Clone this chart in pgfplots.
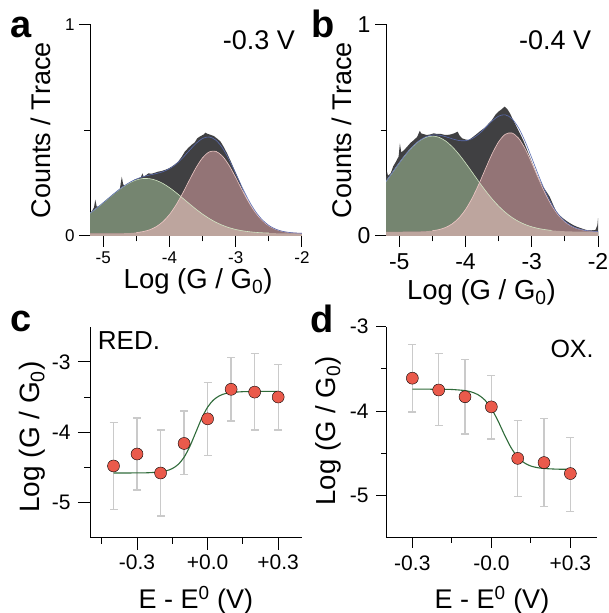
\documentclass[border=0pt]{standalone}
\usepackage{fontspec}
\setmainfont{Liberation Sans}
\usepackage{pgfplots}
\pgfplotsset{compat=1.18}

\definecolor{histgray}{HTML}{404042}
\definecolor{gfill}{HTML}{758570}
\definecolor{mfill}{HTML}{937476}
\definecolor{ofill}{HTML}{BDA59E}
\definecolor{gline}{HTML}{D2E6C4}
\definecolor{mline}{HTML}{EEC9C6}
\definecolor{fitblue}{HTML}{5A6CB0}
\definecolor{dotred}{HTML}{EA5A4B}
\definecolor{errgray}{HTML}{CACACA}
\definecolor{fitgreen}{HTML}{2F6B3A}

\newcommand{\fs}[1]{\fontsize{#1}{#1}\selectfont}

\pgfplotsset{
  panel/.style={
    scale only axis, enlargelimits=false,
    axis x line=bottom, axis y line=left, axis line style={-, line width=1pt},
    tick align=outside, major tick length=11pt, minor tick length=5.5pt,
    tick style={line width=1pt, black},
    xtick pos=bottom, ytick pos=left,
  },
  hist/.style={
    panel, xmin=-5.2, xmax=-2, ymin=0, ymax=1,
    width=212pt, height=211.7pt,
    xtick={-5,-4,-3,-2}, xticklabels={-5,-4,-3,-2}, minor xtick={-4.5,-3.5,-2.5},
    ytick={0,1}, yticklabels={0,1}, minor ytick={0.5},
  },
  ebar/.style={forget plot, draw=none, mark=none,
    error bars/.cd, y dir=both, y explicit,
    error bar style={draw=errgray, solid, line width=1.3pt},
    error mark options={rotate=90, mark size=4pt, draw=errgray, line width=1.3pt}},
  dots/.style={only marks, mark=*, mark size=6pt, mark options={draw=none, fill=dotred}},
}

\begin{document}
\begin{tikzpicture}
\path[use as bounding box] (0pt,0pt) rectangle (608pt,613pt);

% ---------------- a ----------------
\begin{axis}[hist, at={(90pt,377pt)}, anchor=south west,
  tick label style={font=\fs{17}},
  xticklabel style={yshift=-1.5pt}, yticklabel style={xshift=-1pt},
  xlabel={\fs{27.5}Log (G / G\textsubscript{0})},
  xlabel style={at={(axis description cs:0.51,-0.214)}, anchor=center},
  ylabel={\fs{27}Counts / Trace},
  ylabel style={at={(axis description cs:-0.231,0.5)}, anchor=center},
]
\addplot[fill=histgray, draw=none] coordinates {
(-5.20,0.107) (-5.17,0.118) (-5.14,0.135) (-5.12,0.172) (-5.10,0.140) (-5.07,0.138)
(-5.03,0.135) (-5.00,0.150) (-4.96,0.162) (-4.93,0.172) (-4.88,0.185) (-4.83,0.200)
(-4.78,0.212) (-4.75,0.222) (-4.72,0.280) (-4.70,0.245) (-4.67,0.235) (-4.62,0.249)
(-4.57,0.258) (-4.52,0.268) (-4.47,0.272) (-4.43,0.278) (-4.41,0.296) (-4.39,0.280)
(-4.35,0.288) (-4.32,0.296) (-4.27,0.294) (-4.22,0.299) (-4.17,0.304) (-4.12,0.307)
(-4.07,0.312) (-4.02,0.318) (-3.97,0.327) (-3.92,0.338) (-3.87,0.351) (-3.82,0.372)
(-3.77,0.398) (-3.72,0.415) (-3.67,0.430) (-3.62,0.442) (-3.58,0.462) (-3.53,0.472)
(-3.48,0.480) (-3.46,0.488) (-3.42,0.482) (-3.38,0.478) (-3.33,0.472) (-3.28,0.460)
(-3.23,0.446) (-3.18,0.420) (-3.13,0.390) (-3.08,0.356) (-3.03,0.320) (-2.98,0.285)
(-2.93,0.249) (-2.88,0.208) (-2.83,0.170) (-2.78,0.140) (-2.73,0.115) (-2.68,0.094)
(-2.62,0.076) (-2.57,0.060) (-2.52,0.047) (-2.47,0.036) (-2.42,0.028) (-2.35,0.020)
(-2.27,0.016) (-2.20,0.015) (-2.12,0.013) (-2.05,0.010) (-2.00,0.008)
} \closedcycle;
% green gaussian
\addplot[fill=gfill, draw=none, smooth] coordinates {
(-5.2,0.1077) (-5.1,0.1317) (-5.0,0.1575) (-4.9,0.1840) (-4.8,0.2097) (-4.7,0.2327)
(-4.6,0.2516) (-4.5,0.2649) (-4.4,0.2714) (-4.3,0.2707) (-4.2,0.2627) (-4.1,0.2483)
(-4.0,0.2284) (-3.9,0.2047) (-3.8,0.1787) (-3.7,0.1523) (-3.6,0.1267) (-3.5,0.1032)
(-3.4,0.0825) (-3.3,0.0649) (-3.2,0.0507) (-3.1,0.0394) (-3.0,0.0309) (-2.9,0.0247)
(-2.8,0.0203) (-2.7,0.0172) (-2.6,0.0152) (-2.5,0.0139) (-2.4,0.0130) (-2.3,0.0125)
(-2.2,0.0123) (-2.1,0.0121) (-2.0,0.0120)
} \closedcycle;
% mauve gaussian
\addplot[fill=mfill, draw=none, smooth] coordinates {
(-5.2,0.0120) (-5.1,0.0120) (-5.0,0.0120) (-4.9,0.0120) (-4.8,0.0122) (-4.7,0.0128)
(-4.6,0.0138) (-4.5,0.0161) (-4.4,0.0208) (-4.3,0.0293) (-4.2,0.0441) (-4.1,0.0674)
(-4.0,0.1015) (-3.9,0.1472) (-3.8,0.2028) (-3.7,0.2637) (-3.6,0.3224) (-3.5,0.3697)
(-3.4,0.3973) (-3.3,0.3999) (-3.2,0.3770) (-3.1,0.3330) (-3.0,0.2759) (-2.9,0.2148)
(-2.8,0.1576) (-2.7,0.1097) (-2.6,0.0733) (-2.5,0.0480) (-2.4,0.0317) (-2.3,0.0221)
(-2.2,0.0168) (-2.1,0.0142) (-2.0,0.0129)
} \closedcycle;
% overlap (lower of the two)
\addplot[fill=ofill, draw=none] coordinates {
(-5.2,0.0120) (-5.1,0.0120) (-5.0,0.0120) (-4.9,0.0120) (-4.8,0.0122) (-4.7,0.0128)
(-4.6,0.0138) (-4.5,0.0161) (-4.4,0.0208) (-4.3,0.0293) (-4.2,0.0441) (-4.1,0.0674)
(-4.0,0.1015) (-3.9,0.1472) (-3.83,0.1860) (-3.8,0.1787) (-3.7,0.1523) (-3.6,0.1267)
(-3.5,0.1032) (-3.4,0.0825) (-3.3,0.0649) (-3.2,0.0507) (-3.1,0.0394) (-3.0,0.0309)
(-2.9,0.0247) (-2.8,0.0203) (-2.7,0.0172) (-2.6,0.0152) (-2.5,0.0139) (-2.4,0.0130)
(-2.3,0.0125) (-2.2,0.0123) (-2.1,0.0121) (-2.0,0.0120)
} \closedcycle;
\addplot[gline, line width=0.6pt, smooth] coordinates {
(-5.2,0.1077) (-5.1,0.1317) (-5.0,0.1575) (-4.9,0.1840) (-4.8,0.2097) (-4.7,0.2327)
(-4.6,0.2516) (-4.5,0.2649) (-4.4,0.2714) (-4.3,0.2707) (-4.2,0.2627) (-4.1,0.2483)
(-4.0,0.2284) (-3.9,0.2047) (-3.8,0.1787) (-3.7,0.1523) (-3.6,0.1267) (-3.5,0.1032)
(-3.4,0.0825) (-3.3,0.0649) (-3.2,0.0507) (-3.1,0.0394) (-3.0,0.0309) (-2.9,0.0247)
(-2.8,0.0203) (-2.7,0.0172) (-2.6,0.0152) (-2.5,0.0139)
};
\addplot[mline, line width=0.6pt, smooth] coordinates {
(-4.5,0.0161) (-4.4,0.0208) (-4.3,0.0293) (-4.2,0.0441) (-4.1,0.0674)
(-4.0,0.1015) (-3.9,0.1472) (-3.8,0.2028) (-3.7,0.2637) (-3.6,0.3224) (-3.5,0.3697)
(-3.4,0.3973) (-3.3,0.3999) (-3.2,0.3770) (-3.1,0.3330) (-3.0,0.2759) (-2.9,0.2148)
(-2.8,0.1576) (-2.7,0.1097) (-2.6,0.0733) (-2.5,0.0480) (-2.4,0.0317) (-2.3,0.0221)
(-2.2,0.0168) (-2.1,0.0142) (-2.0,0.0129)
};
% total fit
\addplot[fitblue, line width=0.6pt, smooth] coordinates {
(-5.2,0.1077) (-5.1,0.1317) (-5.0,0.1575) (-4.9,0.1840) (-4.8,0.2099) (-4.7,0.2335)
(-4.6,0.2534) (-4.5,0.2690) (-4.4,0.2802) (-4.3,0.2880) (-4.2,0.2948) (-4.1,0.3037)
(-4.0,0.3179) (-3.9,0.3399) (-3.8,0.3695) (-3.7,0.4040) (-3.6,0.4371) (-3.5,0.4609)
(-3.4,0.4678) (-3.3,0.4528) (-3.2,0.4157) (-3.1,0.3604) (-3.0,0.2948) (-2.9,0.2275)
(-2.8,0.1659) (-2.7,0.1149) (-2.6,0.0765) (-2.5,0.0499) (-2.4,0.0327) (-2.3,0.0226)
(-2.2,0.0171) (-2.1,0.0143) (-2.0,0.0129)
};
\node[font=\fs{27}] at (axis description cs:0.797,0.926) {-0.3 V};
\end{axis}

% ---------------- b ----------------
\begin{axis}[hist, at={(386pt,377pt)}, anchor=south west,
  tick label style={font=\fs{23}},
  xticklabel style={yshift=-3pt}, yticklabel style={xshift=-1pt},
  xlabel={\fs{27.5}Log (G / G\textsubscript{0})},
  xlabel style={at={(axis description cs:0.45,-0.265)}, anchor=center},
  ylabel={\fs{27}Counts / Trace},
  ylabel style={at={(axis description cs:-0.208,0.5)}, anchor=center},
]
\addplot[fill=histgray, draw=none] coordinates {
(-5.20,0.265) (-5.19,0.310) (-5.17,0.285) (-5.13,0.296) (-5.09,0.330) (-5.05,0.351)
(-5.01,0.375) (-4.99,0.438) (-4.97,0.395) (-4.93,0.405) (-4.88,0.422) (-4.83,0.440)
(-4.78,0.453) (-4.73,0.468) (-4.69,0.497) (-4.67,0.485) (-4.62,0.480) (-4.58,0.477)
(-4.53,0.480) (-4.48,0.485) (-4.43,0.482) (-4.37,0.482) (-4.32,0.478) (-4.28,0.477)
(-4.22,0.480) (-4.17,0.485) (-4.12,0.493) (-4.09,0.475) (-4.05,0.461) (-4.00,0.456)
(-3.95,0.453) (-3.90,0.465) (-3.85,0.477) (-3.78,0.495) (-3.72,0.509) (-3.66,0.528)
(-3.60,0.548) (-3.55,0.572) (-3.50,0.588) (-3.45,0.600) (-3.41,0.611) (-3.37,0.600)
(-3.33,0.580) (-3.28,0.548) (-3.23,0.516) (-3.18,0.485) (-3.13,0.453) (-3.08,0.414)
(-3.03,0.375) (-2.98,0.335) (-2.93,0.296) (-2.88,0.262) (-2.83,0.233) (-2.78,0.210)
(-2.73,0.186) (-2.68,0.150) (-2.63,0.115) (-2.58,0.098) (-2.53,0.084) (-2.47,0.070)
(-2.42,0.060) (-2.37,0.051) (-2.32,0.044) (-2.25,0.036) (-2.17,0.028) (-2.10,0.027)
(-2.04,0.028) (-2.01,0.050) (-2.00,0.084)
} \closedcycle;
\addplot[fill=gfill, draw=none, smooth] coordinates {
(-5.2,0.2572) (-5.1,0.3015) (-5.0,0.3453) (-4.9,0.3862) (-4.8,0.4215) (-4.7,0.4488)
(-4.6,0.4661) (-4.5,0.4720) (-4.4,0.4661) (-4.3,0.4488) (-4.2,0.4215) (-4.1,0.3862)
(-4.0,0.3453) (-3.9,0.3015) (-3.8,0.2572) (-3.7,0.2147) (-3.6,0.1757) (-3.5,0.1413)
(-3.4,0.1120) (-3.3,0.0879) (-3.2,0.0689) (-3.1,0.0543) (-3.0,0.0434) (-2.9,0.0356)
(-2.8,0.0301) (-2.7,0.0264) (-2.6,0.0239) (-2.5,0.0223) (-2.4,0.0213) (-2.3,0.0207)
(-2.2,0.0203) (-2.1,0.0201) (-2.0,0.0200)
} \closedcycle;
\addplot[fill=mfill, draw=none, smooth] coordinates {
(-5.2,0.0200) (-5.1,0.0200) (-5.0,0.0200) (-4.9,0.0201) (-4.8,0.0203) (-4.7,0.0209)
(-4.6,0.0222) (-4.5,0.0249) (-4.4,0.0303) (-4.3,0.0403) (-4.2,0.0575) (-4.1,0.0849)
(-4.0,0.1248) (-3.9,0.1785) (-3.8,0.2441) (-3.7,0.3165) (-3.6,0.3871) (-3.5,0.4450)
(-3.4,0.4804) (-3.3,0.4866) (-3.2,0.4623) (-3.1,0.4123) (-3.0,0.3455) (-2.9,0.2727)
(-2.8,0.2035) (-2.7,0.1446) (-2.6,0.0992) (-2.5,0.0671) (-2.4,0.0462) (-2.3,0.0336)
(-2.2,0.0266) (-2.1,0.0230) (-2.0,0.0213)
} \closedcycle;
\addplot[fill=ofill, draw=none] coordinates {
(-5.2,0.0200) (-5.1,0.0200) (-5.0,0.0200) (-4.9,0.0201) (-4.8,0.0203) (-4.7,0.0209)
(-4.6,0.0222) (-4.5,0.0249) (-4.4,0.0303) (-4.3,0.0403) (-4.2,0.0575) (-4.1,0.0849)
(-4.0,0.1248) (-3.9,0.1785) (-3.8,0.2441) (-3.789,0.2520) (-3.7,0.2147) (-3.6,0.1757)
(-3.5,0.1413) (-3.4,0.1120) (-3.3,0.0879) (-3.2,0.0689) (-3.1,0.0543) (-3.0,0.0434)
(-2.9,0.0356) (-2.8,0.0301) (-2.7,0.0264) (-2.6,0.0239) (-2.5,0.0223) (-2.4,0.0213)
(-2.3,0.0207) (-2.2,0.0203) (-2.1,0.0201) (-2.0,0.0200)
} \closedcycle;
\addplot[gline, line width=0.6pt, smooth] coordinates {
(-5.2,0.2572) (-5.1,0.3015) (-5.0,0.3453) (-4.9,0.3862) (-4.8,0.4215) (-4.7,0.4488)
(-4.6,0.4661) (-4.5,0.4720) (-4.4,0.4661) (-4.3,0.4488) (-4.2,0.4215) (-4.1,0.3862)
(-4.0,0.3453) (-3.9,0.3015) (-3.8,0.2572) (-3.7,0.2147) (-3.6,0.1757) (-3.5,0.1413)
(-3.4,0.1120) (-3.3,0.0879) (-3.2,0.0689) (-3.1,0.0543) (-3.0,0.0434) (-2.9,0.0356)
(-2.8,0.0301) (-2.7,0.0264)
};
\addplot[mline, line width=0.6pt, smooth] coordinates {
(-4.5,0.0249) (-4.4,0.0303) (-4.3,0.0403) (-4.2,0.0575) (-4.1,0.0849)
(-4.0,0.1248) (-3.9,0.1785) (-3.8,0.2441) (-3.7,0.3165) (-3.6,0.3871) (-3.5,0.4450)
(-3.4,0.4804) (-3.3,0.4866) (-3.2,0.4623) (-3.1,0.4123) (-3.0,0.3455) (-2.9,0.2727)
(-2.8,0.2035) (-2.7,0.1446) (-2.6,0.0992) (-2.5,0.0671) (-2.4,0.0462) (-2.3,0.0336)
(-2.2,0.0266) (-2.1,0.0230) (-2.0,0.0213)
};
\addplot[fitblue, line width=0.6pt, smooth] coordinates {
(-5.2,0.2572) (-5.1,0.3015) (-5.0,0.3453) (-4.9,0.3863) (-4.8,0.4218) (-4.7,0.4497)
(-4.6,0.4683) (-4.5,0.4769) (-4.4,0.4764) (-4.3,0.4691) (-4.2,0.4590) (-4.1,0.4511)
(-4.0,0.4501) (-3.9,0.4600) (-3.8,0.4813) (-3.7,0.5112) (-3.6,0.5428) (-3.5,0.5663)
(-3.4,0.5724) (-3.3,0.5545) (-3.2,0.5112) (-3.1,0.4466) (-3.0,0.3689) (-2.9,0.2883)
(-2.8,0.2136) (-2.7,0.1510) (-2.6,0.1031) (-2.5,0.0694) (-2.4,0.0475) (-2.3,0.0343)
(-2.2,0.0269) (-2.1,0.0231) (-2.0,0.0213)
};
\node[font=\fs{27}] at (axis description cs:0.798,0.926) {-0.4 V};
\end{axis}

% ---------------- c ----------------
\begin{axis}[panel, at={(90pt,75.3pt)}, anchor=south west,
  width=211.7pt, height=211pt,
  xmin=-0.5, xmax=0.4, ymin=-5.5, ymax=-2.5,
  xtick={-0.3,0,0.3}, xticklabels={-0.3,+0.0,+0.3}, minor xtick={-0.45,-0.15,0.15},
  ytick={-5,-4,-3}, yticklabels={-5,-4,-3}, minor ytick={-4.5,-3.5},
  major tick length=12pt, minor tick length=6pt,
  tick label style={font=\fs{21}},
  xticklabel style={yshift=-2pt}, yticklabel style={xshift=-4pt},
  xlabel={\fs{27}E - E\textsuperscript{0} (V)},
  xlabel style={at={(axis description cs:0.5,-0.295)}, anchor=center},
  ylabel={\fs{28}Log (G / G\textsubscript{0})},
  ylabel style={at={(axis description cs:-0.274,0.477)}, anchor=center},
]
\addplot[ebar] coordinates {
(-0.4,-4.48) +- (0,0.62) (-0.3,-4.31) +- (0,0.51) (-0.2,-4.58) +- (0,0.61)
(-0.1,-4.15) +- (0,0.45) (0,-3.81) +- (0,0.52) (0.1,-3.39) +- (0,0.45)
(0.2,-3.425) +- (0,0.545) (0.3,-3.505) +- (0,0.465)
};
\addplot[fitgreen, line width=1.1pt, smooth] coordinates {
(-0.4,-4.580) (-0.3,-4.579) (-0.25,-4.576) (-0.2,-4.564) (-0.175,-4.548) (-0.15,-4.517)
(-0.125,-4.458) (-0.1,-4.356) (-0.075,-4.198) (-0.05,-4.000) (-0.025,-3.802) (0,-3.644)
(0.025,-3.542) (0.05,-3.483) (0.075,-3.451) (0.1,-3.436) (0.15,-3.424) (0.2,-3.421) (0.3,-3.420)
};
\addplot[dots] coordinates {
(-0.4,-4.48) (-0.3,-4.31) (-0.2,-4.58) (-0.1,-4.16) (0,-3.81) (0.1,-3.39) (0.2,-3.43) (0.3,-3.50)
};
\node[font=\fs{26}] at (axis description cs:0.184,0.932) {RED.};
\end{axis}

% ---------------- d ----------------
\begin{axis}[panel, at={(386pt,75.3pt)}, anchor=south west,
  width=210.7pt, height=211pt,
  xmin=-0.4, xmax=0.4, ymin=-5.5, ymax=-3,
  xtick={-0.3,0,0.3}, xticklabels={-0.3,-0.0,+0.3}, minor xtick={-0.15,0.15},
  ytick={-5,-4,-3}, yticklabels={-5,-4,-3}, minor ytick={-4.5,-3.5},
  major tick length=10pt, minor tick length=5pt,
  tick label style={font=\fs{21}},
  xticklabel style={yshift=-5pt}, yticklabel style={xshift=-4pt},
  xlabel={\fs{27}E - E\textsuperscript{0} (V)},
  xlabel style={at={(axis description cs:0.503,-0.295)}, anchor=center},
  ylabel={\fs{27.5}Log (G / G\textsubscript{0})},
  ylabel style={at={(axis description cs:-0.275,0.506)}, anchor=center},
]
\addplot[ebar] coordinates {
(-0.3,-3.61) +- (0,0.40) (-0.2,-3.745) +- (0,0.425) (-0.1,-3.83) +- (0,0.44)
(0,-3.955) +- (0,0.375) (0.1,-4.56) +- (0,0.45) (0.2,-4.61) +- (0,0.52)
(0.3,-4.75) +- (0,0.44)
};
\addplot[fitgreen, line width=1.1pt, smooth] coordinates {
(-0.3,-3.740) (-0.2,-3.741) (-0.15,-3.744) (-0.1,-3.757) (-0.075,-3.774) (-0.05,-3.807)
(-0.025,-3.868) (0,-3.970) (0.025,-4.114) (0.05,-4.282) (0.075,-4.434) (0.1,-4.545)
(0.125,-4.613) (0.15,-4.651) (0.175,-4.670) (0.2,-4.680) (0.25,-4.688) (0.3,-4.690)
};
\addplot[dots] coordinates {
(-0.3,-3.61) (-0.2,-3.75) (-0.1,-3.83) (0,-3.95) (0.1,-4.56) (0.2,-4.61) (0.3,-4.74)
};
\node[font=\fs{25}] at (axis description cs:0.883,0.894) {OX.};
\end{axis}

% panel letters
\node[anchor=base west, font=\fs{38}\bfseries, inner sep=0pt] at (10pt,575pt) {a};
\node[anchor=base west, font=\fs{38}\bfseries, inner sep=0pt] at (311pt,575pt) {b};
\node[anchor=base west, font=\fs{38}\bfseries, inner sep=0pt] at (10pt,281pt) {c};
\node[anchor=base west, font=\fs{38}\bfseries, inner sep=0pt] at (310pt,280pt) {d};
\end{tikzpicture}
\end{document}
